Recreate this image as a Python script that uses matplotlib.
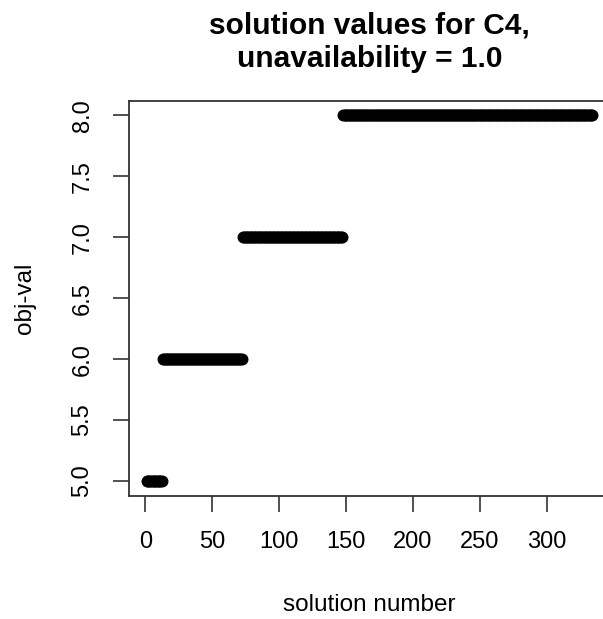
import numpy as np
from matplotlib import pyplot as plt

# objective value for each run of solution numbers
obj_vals = [5, 6, 7, 8]
first_sol = [1, 13, 73, 148]
last_sol = [12, 72, 147, 334]

sol_num, obj = [], []
for v, a, b in zip(obj_vals, first_sol, last_sol):
    for s in range(a, b + 1):
        sol_num.append(s)
        obj.append(v)
sol_num = np.array(sol_num)
obj = np.array(obj)

xticks = [0, 50, 100, 150, 200, 250, 300]
yticks = [5.0, 5.5, 6.0, 6.5, 7.0, 7.5, 8.0]

plt.rcParams['font.family'] = ['Liberation Sans', 'DejaVu Sans']

fig = plt.figure(figsize=(6.03, 6.19), dpi=100)
ax = fig.add_axes([129 / 603, 123.3 / 619, 481 / 603, 395 / 619])

ax.plot(sol_num, obj, 'o', color='black', ms=8.6, mew=0)

n = len(sol_num)
xpad = 0.04 * (n - 1)
ax.set_xlim(1 - xpad, n + xpad)
ax.set_ylim(4.88, 8.12)

ax.set_xticks(xticks)
ax.set_xticklabels([str(t) for t in xticks])
ax.set_yticks(yticks)
ax.set_yticklabels(['%.1f' % t for t in yticks], rotation=90, va='center')
ax.tick_params(length=11.5, width=1.1, labelsize=17, pad=14, color='#222222')
for sp in ax.spines.values():
    sp.set_linewidth(1.3)
    sp.set_color('#333333')

fig.text(369.5 / 603, 1 - 33 / 619, "solution values for C4,",
         ha='center', va='baseline', fontsize=21.5, fontweight='bold')
fig.text(369.5 / 603, 1 - 67 / 619, "unavailability = 1.0",
         ha='center', va='baseline', fontsize=21.5, fontweight='bold')
fig.text(369.5 / 603, 1 - 605 / 619, "solution number",
         ha='center', va='center', fontsize=17.5)
fig.text(25 / 603, 1 - 298 / 619, "obj-val", rotation=90,
         ha='center', va='center', fontsize=17.5)

fig.savefig('out.png', dpi=100)
